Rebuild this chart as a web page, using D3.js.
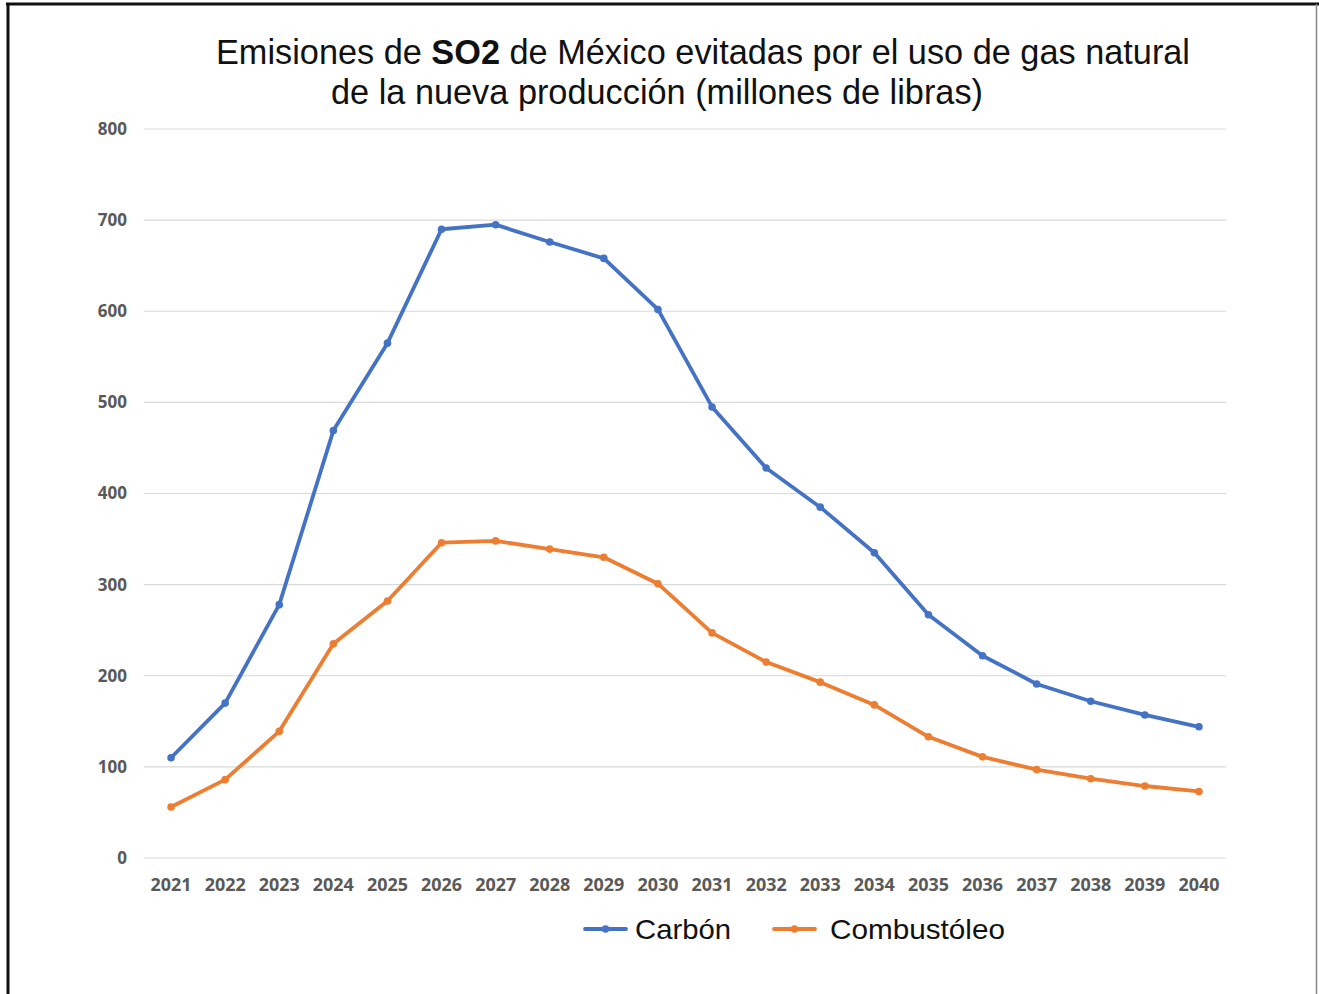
<!DOCTYPE html>
<html>
<head>
<meta charset="utf-8">
<script src="https://cdn.jsdelivr.net/npm/d3@7"></script>
<style>
  html, body { margin: 0; padding: 0; background: #fff; }
  svg { display: block; }
</style>
</head>
<body>
<svg id="chart" width="1319" height="994"></svg>
<script>
// Years on the horizontal axis
const years = ["2021","2022","2023","2024","2025","2026","2027","2028","2029","2030",
               "2031","2032","2033","2034","2035","2036","2037","2038","2039","2040"];
// SO2 avoided emissions (millions of pounds)
const carbon = [110, 170, 278, 469, 565, 690, 695, 676, 658, 602,
                495, 428, 385, 335, 267, 222, 191, 172, 157, 144];
const combustoleo = [56, 86, 139, 235, 282, 346, 348, 339, 330, 301,
                     247, 215, 193, 168, 133, 111, 97, 87, 79, 73];
const yTicks = [0, 100, 200, 300, 400, 500, 600, 700, 800];
const seriesNames = ["Carbón", "Combustóleo"];
const seriesColors = ["#4472C4", "#ED7D31"];

const svg = d3.select("#chart");

// Frame lines around the picture
svg.append("line").attr("x1", 6).attr("x2", 1319).attr("y1", 4).attr("y2", 4)
  .attr("stroke", "#111").attr("stroke-width", 3);
svg.append("line").attr("x1", 8).attr("x2", 8).attr("y1", 3).attr("y2", 994)
  .attr("stroke", "#111").attr("stroke-width", 3);
svg.append("line").attr("x1", 1316.5).attr("x2", 1316.5).attr("y1", 4).attr("y2", 994)
  .attr("stroke", "#888").attr("stroke-width", 1.5);

// Title
const title = svg.append("g").attr("font-family", "'Liberation Sans', Arial, sans-serif")
  .attr("font-size", 35).attr("fill", "#111");
const t1 = title.append("text").attr("x", 216).attr("y", 64)
  .attr("textLength", 974).attr("lengthAdjust", "spacingAndGlyphs");
t1.append("tspan").text("Emisiones de ");
t1.append("tspan").attr("font-weight", "bold").text("SO2");
t1.append("tspan").text(" de México evitadas por el uso de gas natural");
title.append("text").attr("x", 331).attr("y", 104)
  .attr("textLength", 652).attr("lengthAdjust", "spacingAndGlyphs")
  .text("de la nueva producción (millones de libras)");

// Scales
const x = d3.scaleBand().domain(years).range([144, 1226]);
const y = d3.scaleLinear().domain([0, 800]).range([858, 129]);
const cx = d => x(d) + x.bandwidth() / 2;

// Gridlines
svg.append("g").selectAll("line").data(yTicks).join("line")
  .attr("x1", 144).attr("x2", 1226)
  .attr("y1", d => y(d)).attr("y2", d => y(d))
  .attr("stroke", "#d9d9d9").attr("stroke-width", 1.2);

// Y axis labels
const yAxis = svg.append("g").attr("transform", "translate(127,0)")
  .call(d3.axisLeft(y).tickValues(yTicks).tickSize(0).tickPadding(0));
yAxis.select(".domain").remove();
yAxis.selectAll("text")
  .attr("font-family", "'Open Sans', 'Liberation Sans', sans-serif")
  .attr("font-weight", "bold").attr("font-size", 17).attr("fill", "#595959");

// X axis labels
const xAxis = svg.append("g").attr("transform", "translate(0,879)")
  .call(d3.axisBottom(x).tickSize(0).tickPadding(0));
xAxis.select(".domain").remove();
xAxis.selectAll("text")
  .attr("font-family", "'Open Sans', 'Liberation Sans', sans-serif")
  .attr("font-weight", "bold").attr("font-size", 17).attr("fill", "#595959")
  .attr("textLength", 41).attr("lengthAdjust", "spacingAndGlyphs");

// Lines and markers
const line = d3.line()
  .x((d, i) => cx(years[i]))
  .y(d => y(d))
  .curve(d3.curveLinear);

[carbon, combustoleo].forEach((vals, k) => {
  svg.append("path").datum(vals)
    .attr("d", line)
    .attr("fill", "none")
    .attr("stroke", seriesColors[k])
    .attr("stroke-width", 3.8)
    .attr("stroke-linejoin", "round")
    .attr("stroke-linecap", "round");
  svg.append("g").selectAll("circle").data(vals).join("circle")
    .attr("cx", (d, i) => cx(years[i]))
    .attr("cy", d => y(d))
    .attr("r", 3.8)
    .attr("fill", seriesColors[k]);
});

// Legend
const legendX = [585, 774];
const legendW = [96, 175];
const legend = svg.append("g");
seriesNames.forEach((name, k) => {
  const g = legend.append("g").attr("transform", `translate(${legendX[k]},929)`);
  g.append("line").attr("x1", 0).attr("x2", 41).attr("y1", 0).attr("y2", 0)
    .attr("stroke", seriesColors[k]).attr("stroke-width", 3.8).attr("stroke-linecap", "round");
  g.append("circle").attr("cx", 20.5).attr("cy", 0).attr("r", 3.8).attr("fill", seriesColors[k]);
  g.append("text").attr("x", k === 0 ? 50 : 56).attr("y", 10)
    .attr("font-family", "'Liberation Sans', Arial, sans-serif")
    .attr("font-size", 28.5).attr("fill", "#111")
    .attr("textLength", legendW[k]).attr("lengthAdjust", "spacingAndGlyphs")
    .text(name);
});
</script>
</body>
</html>
